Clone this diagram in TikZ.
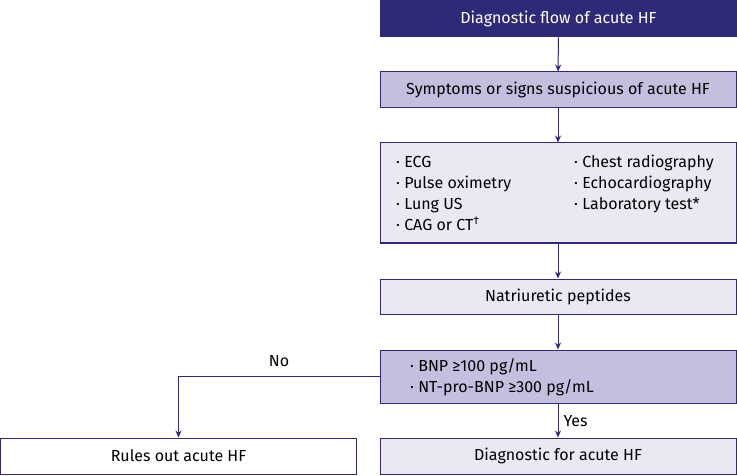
\documentclass[tikz,border=0pt]{standalone}
\usepackage{fontspec}
\setmainfont{Fira Sans}
\usetikzlibrary{arrows.meta}
\definecolor{navy}{HTML}{2E2A78}
\definecolor{lav}{HTML}{C3C0DF}
\definecolor{light}{HTML}{EAE9F3}
\begin{document}
\begin{tikzpicture}[x=1pt,y=-1pt,
  box/.style={draw=navy,line width=1pt,minimum width=356pt,minimum height=36pt,inner sep=0pt,font=\fontsize{16}{19}\selectfont},
  arr/.style={draw=navy,line width=1pt,-{Stealth[length=7pt,width=6pt]}},
  lbl/.style={font=\fontsize{16}{19}\selectfont,text=black,text height=11.5pt,text depth=3.5pt,inner sep=0pt}]
\useasboundingbox (0,0) rectangle (737,476);
\node[box,fill=navy,text=white,minimum height=37pt] (title) at (558.5,18.5) {Diagnostic flow of acute HF};
\node[box,fill=lav] (symp) at (558,90) {Symptoms or signs suspicious of acute HF};
\node[box,fill=light,minimum height=100pt] (tests) at (558,193) {};
\node[lbl,anchor=west] (t1) at (396,164) {· ECG};
\node[lbl,anchor=west] (t2) at (396,185) {· Pulse oximetry};
\node[lbl,anchor=west] (t3) at (396,206) {· Lung US};
\node[lbl,anchor=west] (t4) at (396,227) {· CAG or CT\textsuperscript{†}};
\node[lbl,anchor=west] (t5) at (574,164) {· Chest radiography};
\node[lbl,anchor=west] (t6) at (574,185) {· Echocardiography};
\node[lbl,anchor=west] (t7) at (574,206) {· Laboratory test*};
\node[box,fill=light,minimum height=35pt] (nat) at (558,296.5) {Natriuretic peptides};
\node[box,fill=lav,minimum height=53pt] (bnp) at (558,376.5) {};
\node[lbl,anchor=west] (b1) at (410,367) {· BNP ≥100 pg/mL};
\node[lbl,anchor=west] (b2) at (410,388) {· NT-pro-BNP ≥300 pg/mL};
\node[box,fill=light] (diag) at (558,456) {Diagnostic for acute HF};
\node[box,fill=white] (rule) at (178.5,456) {Rules out acute HF};
\draw[arr] (title) -- (symp);
\draw[arr] (symp) -- (tests);
\draw[arr] (tests) -- (nat);
\draw[arr] (nat) -- (bnp);
\draw[arr] (bnp) -- node[lbl,right,pos=0.55,xshift=5pt] {Yes} (diag);
\draw[arr] (bnp.west) -| node[lbl,above,pos=0.25,yshift=6pt] {No} (rule.north);
\end{tikzpicture}
\end{document}
